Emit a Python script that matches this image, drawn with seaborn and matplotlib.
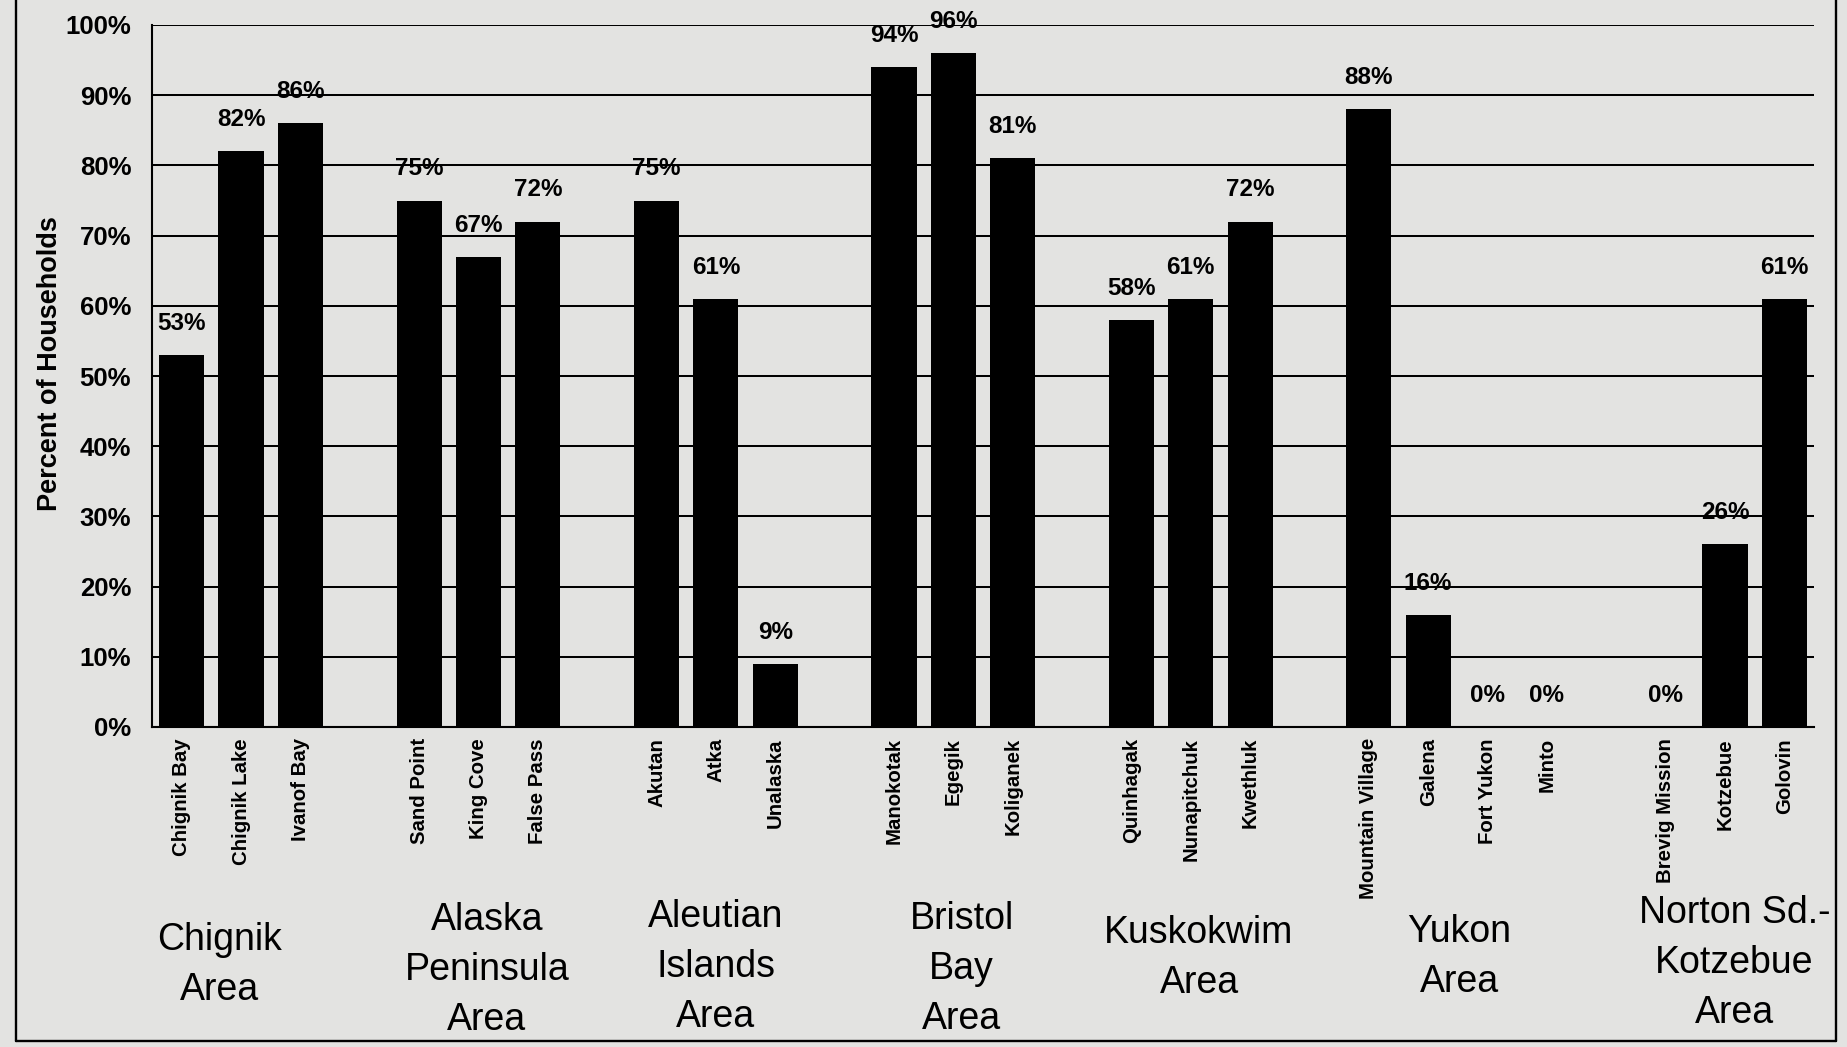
import numpy as np
import pandas as pd
import matplotlib
matplotlib.use("Agg")
import matplotlib.pyplot as plt
import seaborn as sns
from matplotlib.lines import Line2D

# ---------------- data ----------------
group_labels = ["Chignik\nArea", "Alaska\nPeninsula\nArea", "Aleutian\nIslands\nArea",
                "Bristol\nBay\nArea", "Kuskokwim\nArea", "Yukon\nArea",
                "Norton Sd.-\nKotzebue\nArea"]

chignik_names = ["Chignik Bay", "Chignik Lake", "Ivanof Bay"]
chignik_vals = [53, 82, 86]
peninsula_names = ["Sand Point", "King Cove", "False Pass"]
peninsula_vals = [75, 67, 72]
aleutian_names = ["Akutan", "Atka", "Unalaska"]
aleutian_vals = [75, 61, 9]
bristol_names = ["Manokotak", "Egegik", "Koliganek"]
bristol_vals = [94, 96, 81]
kusko_names = ["Quinhagak", "Nunapitchuk", "Kwethluk"]
kusko_vals = [58, 61, 72]
yukon_names = ["Mountain Village", "Galena", "Fort Yukon", "Minto"]
yukon_vals = [88, 16, 0, 0]
norton_names = ["Brevig Mission", "Kotzebue", "Golovin"]
norton_vals = [0, 26, 61]

y_ticks = [0, 10, 20, 30, 40, 50, 60, 70, 80, 90, 100]
y_ticklabels = ["0%", "10%", "20%", "30%", "40%", "50%", "60%", "70%", "80%", "90%", "100%"]
y_title = "Percent of Households"

group_names = [chignik_names, peninsula_names, aleutian_names, bristol_names,
               kusko_names, yukon_names, norton_names]
group_vals = [chignik_vals, peninsula_vals, aleutian_vals, bristol_vals,
              kusko_vals, yukon_vals, norton_vals]

# ---------------- layout ----------------
# horizontal nudge of group captions (in slot units) and vertical centre (pixels from top)
label_dx = [-0.36, 0.14, 0.0, 0.14, 0.14, 0.02, 0.16]
label_ypix = [965, 970, 967, 969, 958, 957, 963]

rows = []
group_centers = []
slot = 0
for gi, (names, vals) in enumerate(zip(group_names, group_vals)):
    start = slot
    for n, v in zip(names, vals):
        rows.append({"pos": slot, "pct": v, "community": n, "group": gi})
        slot += 1
    group_centers.append((start + slot - 1) / 2)
    slot += 1  # empty slot between groups
n_slots = slot - 1
df = pd.DataFrame(rows)

# ---------------- style ----------------
sns.set_theme(style="white")
plt.rcParams['font.family'] = ['Liberation Sans', 'DejaVu Sans']
for k in ["text.color", "axes.labelcolor", "xtick.color", "ytick.color", "axes.edgecolor"]:
    plt.rcParams[k] = "black"
bg = "#e3e3e1"

W, H = 1847, 1047
fig = plt.figure(figsize=(W / 100, H / 100), dpi=100)
fig.patch.set_facecolor(bg)
ax_left, ax_right, ax_top, ax_bot = 152, 1814, 25, 727
ax = fig.add_axes([ax_left / W, 1 - ax_bot / H, (ax_right - ax_left) / W, (ax_bot - ax_top) / H])
ax.set_facecolor(bg)

sns.barplot(data=df, x="pos", y="pct", native_scale=True, color="black",
            saturation=1, width=0.76, errorbar=None, ax=ax, zorder=3,
            edgecolor="black", linewidth=0)

ax.set_xlim(-0.5, n_slots - 0.5)
ax.set_ylim(0, 100)

# gridlines
ax.set_yticks(y_ticks)
ax.set_yticklabels(y_ticklabels, fontsize=18.5, fontweight="bold")
ax.yaxis.grid(True, color="black", linewidth=1.45, zorder=1)
ax.xaxis.grid(False)
ax.set_axisbelow(True)

# x ticks: labels at bar centres, tick marks at slot boundaries
ax.set_xticks(df["pos"].tolist())
ax.set_xticklabels(df["community"].tolist(), rotation=90, fontsize=14.7,
                   fontweight="bold", va="top", ha="center")
ax.set_xticks(np.arange(0.5, n_slots, 1.0), minor=True)
ax.tick_params(axis="x", which="major", length=0, pad=8)
ax.tick_params(axis="x", which="minor", length=10, width=1.4, direction="inout", color="black")
ax.tick_params(axis="y", which="major", length=8, width=1.4, direction="out", color="black", pad=7)

for s in ["top", "right"]:
    ax.spines[s].set_visible(False)
for s in ["left", "bottom"]:
    ax.spines[s].set_color("black")
    ax.spines[s].set_linewidth(1.5)

ax.set_xlabel("")
ax.set_ylabel(y_title, fontsize=19.5, fontweight="bold")
ax.yaxis.set_label_coords((63 - ax_left) / (ax_right - ax_left), (ax_bot - 364) / (ax_bot - ax_top))

# value labels
for _, r in df.iterrows():
    ax.text(r["pos"], r["pct"] + 4.5, f"{r['pct']}%", ha="center", va="center",
            fontsize=17.5, fontweight="bold", color="black", zorder=4)

# group captions
trans = ax.get_xaxis_transform()
for gx, gl, dx, yp in zip(group_centers, group_labels, label_dx, label_ypix):
    ax.text(gx + dx, (ax_bot - yp) / (ax_bot - ax_top), gl, transform=trans,
            ha="center", va="center", multialignment="center", fontsize=27,
            linespacing=1.5, color="black")

# page frame (scan border)
fx0, fx1, fy0 = 16 / W, 1836 / W, 1 - 1041 / H
fig.add_artist(Line2D([fx0, fx0], [fy0, 1.0], transform=fig.transFigure, color="black", lw=1.7))
fig.add_artist(Line2D([fx1, fx1], [fy0, 1.0], transform=fig.transFigure, color="black", lw=1.7))
fig.add_artist(Line2D([fx0, fx1], [fy0, fy0], transform=fig.transFigure, color="black", lw=1.7))

fig.savefig("out.png", dpi=100, facecolor=bg)
